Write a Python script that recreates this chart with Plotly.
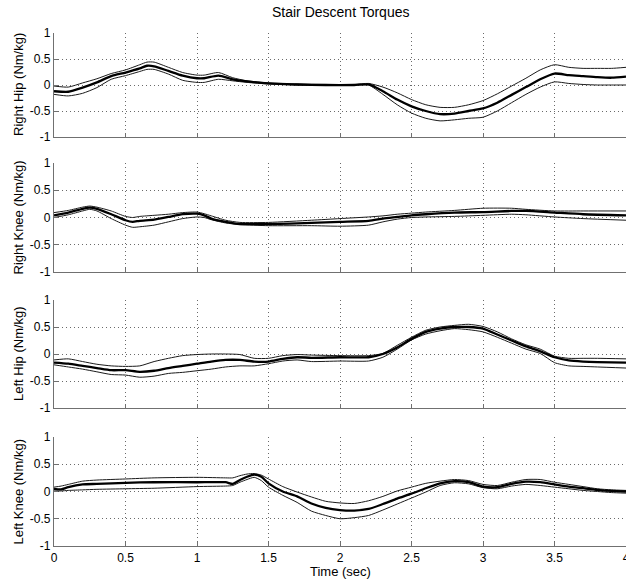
import plotly.graph_objects as go

# ---------------- data ----------------
rh_t = [0, 0.1, 0.2, 0.3, 0.4, 0.5, 0.6, 0.65, 0.7, 0.8, 0.9, 1.0, 1.05, 1.15, 1.25, 1.35, 1.5, 1.7, 1.9, 2.1, 2.2,
        2.3, 2.4, 2.5, 2.6, 2.7, 2.8, 2.9, 3.0, 3.1, 3.2, 3.3, 3.4, 3.5, 3.6, 3.7, 3.8, 3.9, 4.0]
rh_mean = [-0.12, -0.13, -0.05, 0.05, 0.17, 0.24, 0.32, 0.37, 0.36, 0.27, 0.18, 0.13, 0.13, 0.18, 0.11, 0.07, 0.03, 0.01,
           0.0, 0.0, 0.01, -0.12, -0.28, -0.41, -0.5, -0.56, -0.55, -0.5, -0.45, -0.34, -0.19, -0.04, 0.11, 0.22, 0.19,
           0.17, 0.15, 0.14, 0.16]
rh_upper = [-0.02, -0.04, 0.04, 0.12, 0.22, 0.29, 0.39, 0.44, 0.44, 0.34, 0.24, 0.19, 0.19, 0.24, 0.14, 0.08, 0.04, 0.02,
            0.01, 0.01, 0.03, -0.04, -0.15, -0.28, -0.38, -0.43, -0.43, -0.38, -0.3, -0.17, -0.02, 0.13, 0.29, 0.39,
            0.34, 0.32, 0.32, 0.32, 0.34]
rh_lower = [-0.18, -0.21, -0.16, -0.05, 0.11, 0.18, 0.26, 0.30, 0.30, 0.21, 0.09, 0.05, 0.05, 0.11, 0.08, 0.05, 0.02,
            0.0, 0.0, 0.0, 0.0, -0.18, -0.38, -0.54, -0.64, -0.69, -0.67, -0.64, -0.62, -0.5, -0.34, -0.18, -0.04,
            0.06, 0.03, 0.01, 0.0, 0.0, 0.0]

rk_t = [0, 0.1, 0.2, 0.25, 0.3, 0.4, 0.5, 0.55, 0.6, 0.7, 0.8, 0.9, 1.0, 1.05, 1.1, 1.2, 1.3, 1.5, 1.8, 2.0, 2.2, 2.3,
        2.4, 2.5, 2.6, 2.8, 3.0, 3.2, 3.3, 3.5, 3.7, 4.0]
rk_mean = [0.04, 0.09, 0.16, 0.18, 0.16, 0.06, -0.05, -0.08, -0.06, -0.04, 0.01, 0.06, 0.07, 0.04, -0.02, -0.08, -0.12,
           -0.12, -0.1, -0.08, -0.06, -0.02, 0.01, 0.04, 0.06, 0.09, 0.10, 0.12, 0.12, 0.09, 0.06, 0.04]
rk_upper = [0.09, 0.13, 0.19, 0.21, 0.19, 0.12, 0.02, 0.0, 0.02, 0.04, 0.06, 0.09, 0.10, 0.07, 0.03, -0.05, -0.09,
            -0.09, -0.05, -0.02, 0.01, 0.03, 0.06, 0.08, 0.10, 0.13, 0.17, 0.17, 0.15, 0.12, 0.12, 0.12]
rk_lower = [0.0, 0.05, 0.12, 0.15, 0.12, -0.02, -0.14, -0.18, -0.17, -0.14, -0.08, -0.02, 0.01, 0.0, -0.04, -0.1,
            -0.13, -0.15, -0.15, -0.16, -0.14, -0.08, -0.03, 0.0, 0.01, 0.02, 0.04, 0.06, 0.05, 0.01, -0.02, -0.05]

lh_t = [0, 0.1, 0.2, 0.3, 0.4, 0.5, 0.6, 0.7, 0.8, 0.9, 1.0, 1.1, 1.2, 1.3, 1.4, 1.5, 1.6, 1.7, 1.8, 2.0, 2.2, 2.3,
        2.4, 2.5, 2.6, 2.7, 2.8, 2.9, 3.0, 3.1, 3.2, 3.3, 3.4, 3.5, 3.6, 3.7, 3.8, 4.0]
lh_mean = [-0.16, -0.18, -0.22, -0.26, -0.3, -0.3, -0.33, -0.31, -0.26, -0.22, -0.18, -0.14, -0.11, -0.11, -0.14,
           -0.14, -0.09, -0.06, -0.07, -0.06, -0.06, 0.0, 0.12, 0.28, 0.41, 0.47, 0.5, 0.5, 0.47, 0.36, 0.25, 0.14,
           0.05, -0.06, -0.12, -0.14, -0.15, -0.16]
lh_upper = [-0.11, -0.09, -0.14, -0.19, -0.22, -0.23, -0.22, -0.14, -0.08, -0.03, -0.01, 0.0, 0.0, -0.01, -0.08,
            -0.08, -0.03, -0.01, -0.02, -0.03, -0.03, 0.01, 0.16, 0.31, 0.44, 0.50, 0.53, 0.55, 0.51, 0.41, 0.28,
            0.17, 0.09, -0.04, -0.08, -0.08, -0.08, -0.09]
lh_lower = [-0.2, -0.24, -0.28, -0.33, -0.38, -0.39, -0.43, -0.41, -0.36, -0.34, -0.31, -0.28, -0.24, -0.22, -0.22,
            -0.18, -0.13, -0.11, -0.14, -0.13, -0.13, -0.06, 0.09, 0.26, 0.37, 0.43, 0.47, 0.45, 0.41, 0.31, 0.2,
            0.09, 0.01, -0.16, -0.22, -0.23, -0.24, -0.26]

lk_t = [0, 0.05, 0.1, 0.2, 0.3, 0.5, 0.7, 1.0, 1.2, 1.25, 1.3, 1.35, 1.4, 1.45, 1.5, 1.6, 1.7, 1.8, 1.9, 2.0, 2.1,
        2.2, 2.3, 2.4, 2.5, 2.6, 2.7, 2.8, 2.9, 3.0, 3.1, 3.2, 3.3, 3.4, 3.5, 3.6, 3.7, 3.8, 3.9, 4.0]
lk_mean = [0.05, 0.04, 0.08, 0.13, 0.14, 0.16, 0.17, 0.17, 0.17, 0.14, 0.21, 0.27, 0.31, 0.27, 0.15, 0.0, -0.09,
           -0.22, -0.3, -0.34, -0.35, -0.32, -0.23, -0.13, -0.04, 0.06, 0.15, 0.19, 0.17, 0.09, 0.08, 0.14, 0.18,
           0.17, 0.13, 0.09, 0.06, 0.03, 0.01, 0.0]
lk_upper = [0.08, 0.1, 0.13, 0.19, 0.21, 0.23, 0.25, 0.26, 0.25, 0.25, 0.29, 0.32, 0.33, 0.30, 0.23, 0.09, -0.01,
            -0.1, -0.18, -0.21, -0.22, -0.17, -0.09, 0.01, 0.08, 0.15, 0.19, 0.22, 0.2, 0.13, 0.11, 0.17, 0.22, 0.22,
            0.17, 0.13, 0.09, 0.05, 0.03, 0.02]
lk_lower = [0.01, 0.01, 0.02, 0.03, 0.04, 0.05, 0.06, 0.09, 0.1, 0.11, 0.17, 0.22, 0.26, 0.2, 0.08, -0.07, -0.2,
            -0.36, -0.44, -0.5, -0.48, -0.44, -0.34, -0.23, -0.12, -0.01, 0.11, 0.16, 0.14, 0.07, 0.05, 0.1, 0.13,
            0.11, 0.08, 0.05, 0.02, 0.0, -0.02, -0.03]

panel_labels = ["Right Hip (Nm/kg)", "Right Knee (Nm/kg)", "Left Hip (Nm/kg)", "Left Knee (Nm/kg)"]
x_ticks = [0, 0.5, 1, 1.5, 2, 2.5, 3, 3.5, 4]
x_ticktext = ["0", "0.5", "1", "1.5", "2", "2.5", "3", "3.5", "4"]
y_ticks = [-1, -0.5, 0, 0.5, 1]
y_ticktext = ["-1", "-0.5", "0", "0.5", "1"]
title_text = "Stair Descent Torques"
xlabel_text = "Time (sec)"

panels = [
    (rh_t, rh_mean, rh_upper, rh_lower),
    (rk_t, rk_mean, rk_upper, rk_lower),
    (lh_t, lh_mean, lh_upper, lh_lower),
    (lk_t, lk_mean, lk_upper, lk_lower),
]

# ---------------- layout geometry ----------------
W, H = 626, 580
L, R = 54, 0
boxes = [(33, 137), (163, 272), (300, 408), (437, 546)]  # pixel top/bottom of each axes

fig = go.Figure()
font_family = "Liberation Sans, Arial, Helvetica, sans-serif"

for i, (t, m, u, lo) in enumerate(panels):
    k = i + 1
    xa = "x" if k == 1 else f"x{k}"
    ya = "y" if k == 1 else f"y{k}"
    for series, width, color in ((u, 1.0, "#1a1a1a"), (lo, 1.0, "#1a1a1a"), (m, 2.3, "#000000")):
        fig.add_trace(go.Scatter(
            x=t, y=series, mode="lines",
            line=dict(color=color, width=width, shape="spline", smoothing=0.6),
            xaxis=xa, yaxis=ya, showlegend=False, hoverinfo="skip", cliponaxis=True))

    top, bot = boxes[i]
    dom = [1 - bot / H, 1 - top / H]
    axis_common = dict(showgrid=True, gridcolor="#6a6a6a", griddash="1px,3px", gridwidth=1,
                       zeroline=False, showline=True, linecolor="#707070", linewidth=1.3,
                       ticks="inside", ticklen=4, tickcolor="#707070",
                       tickfont=dict(family=font_family, size=12, color="#000"))
    xkey = "xaxis" if k == 1 else f"xaxis{k}"
    ykey = "yaxis" if k == 1 else f"yaxis{k}"
    fig.update_layout(**{
        xkey: dict(domain=[0, 1], range=[0, 4], anchor=ya,
                   tickvals=x_ticks, ticktext=x_ticktext, ticklabeloverflow="allow",
                   showticklabels=(k == 4), automargin=False, **axis_common),
        ykey: dict(domain=dom, range=[-1, 1], anchor=xa,
                   tickvals=y_ticks, ticktext=y_ticktext, automargin=False, **axis_common),
    })
    fig.add_annotation(text=panel_labels[i], textangle=-90, xref="paper", yref="paper",
                       x=(18 - L) / (W - L - R), y=1 - (top + bot) / 2 / H,
                       xanchor="center", yanchor="middle", showarrow=False,
                       font=dict(family=font_family, size=13, color="#000"))

fig.add_annotation(text=title_text, xref="paper", yref="paper", x=0.5, y=1 - 12 / H,
                   xanchor="center", yanchor="middle", showarrow=False,
                   font=dict(family=font_family, size=14, color="#000"))
fig.add_annotation(text=xlabel_text, xref="paper", yref="paper", x=0.5, y=1 - 571 / H,
                   xanchor="center", yanchor="middle", showarrow=False,
                   font=dict(family=font_family, size=13, color="#000"))

fig.update_layout(width=W, height=H, margin=dict(l=L, r=R, t=0, b=0, autoexpand=False),
                  paper_bgcolor="white", plot_bgcolor="white",
                  font=dict(family=font_family, size=12, color="#000"))

fig.write_html("out.html", config={"displayModeBar": False},
               post_script="document.body.style.margin='0';document.body.style.overflow='hidden';")
